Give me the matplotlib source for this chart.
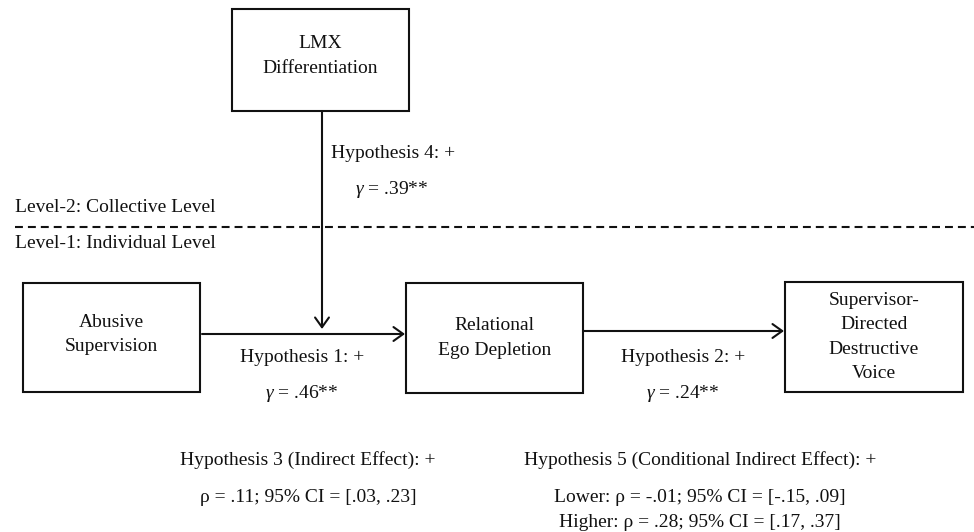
import matplotlib.pyplot as plt
from matplotlib.patches import Rectangle

plt.rcParams['font.family'] = ['Liberation Serif', 'DejaVu Serif']
plt.rcParams['mathtext.fontset'] = 'custom'
plt.rcParams['mathtext.rm'] = 'Liberation Serif'
plt.rcParams['mathtext.it'] = 'Liberation Serif:italic'

# variable boxes
box_labels = ['LMX\nDifferentiation', 'Abusive\nSupervision',
              'Relational\nEgo Depletion', 'Supervisor-\nDirected\nDestructive\nVoice']
# path labels
hyp_labels = ['Hypothesis 4: +', 'Hypothesis 1: +', 'Hypothesis 2: +']
gamma_values = ['.39**', '.46**', '.24**']
level_labels = ['Level-2: Collective Level', 'Level-1: Individual Level']
indirect_titles = ['Hypothesis 3 (Indirect Effect): +',
                   'Hypothesis 5 (Conditional Indirect Effect): +']
indirect_values = ['\u03c1 = .11; 95% CI = [.03, .23]',
                   'Lower: \u03c1 = -.01; 95% CI = [-.15, .09]\n'
                   'Higher: \u03c1 = .28; 95% CI = [.17, .37]']

fig = plt.figure(figsize=(9.74, 5.32), dpi=100)
ax = fig.add_axes([0, 0, 1, 1])
ax.set_xlim(0, 974)
ax.set_ylim(532, 0)
ax.axis('off')

fs = 14
ink = '#111111'
# boxes (x0, y0, x1, y1) and text offsets from centre
boxes = [(232, 9, 409, 111), (23, 283, 200, 392), (406, 283, 583, 393), (785, 282, 963, 392)]
offsets = [-4, -3, 0, 0]
for (x0, y0, x1, y1), lab, off in zip(boxes, box_labels, offsets):
    ax.add_patch(Rectangle((x0, y0), x1 - x0, y1 - y0, fill=False, lw=1.5, ec=ink))
    ax.text((x0 + x1) / 2, (y0 + y1) / 2 + off, lab, ha='center', va='center',
            fontsize=fs, linespacing=1.55, color=ink)

arrow = dict(arrowstyle='->,head_length=0.35,head_width=0.25', lw=1.5, color=ink,
             shrinkA=0, shrinkB=0, mutation_scale=20)
# vertical moderating arrow
ax.annotate('', xy=(322, 329), xytext=(322, 111), arrowprops=arrow)
# main paths
ax.annotate('', xy=(405, 334), xytext=(202, 334), arrowprops=arrow)
ax.annotate('', xy=(784, 331), xytext=(583, 331), arrowprops=arrow)

# level divider
ax.plot([15, 974], [227, 227], color=ink, lw=1.5, linestyle=(0, (3.8, 2.4)))
ax.text(15, 208, level_labels[0], ha='left', va='center', fontsize=fs, color=ink)
ax.text(15, 243, level_labels[1], ha='left', va='center', fontsize=fs, color=ink)

# path labels
ax.text(331, 153, hyp_labels[0], ha='left', va='center', fontsize=fs, color=ink)
ax.text(392, 189, r'$\mathit{\gamma}$ = ' + gamma_values[0], ha='center', va='center', fontsize=fs, color=ink)
ax.text(302, 357, hyp_labels[1], ha='center', va='center', fontsize=fs, color=ink)
ax.text(302, 393, r'$\mathit{\gamma}$ = ' + gamma_values[1], ha='center', va='center', fontsize=fs, color=ink)
ax.text(683, 357, hyp_labels[2], ha='center', va='center', fontsize=fs, color=ink)
ax.text(683, 393, r'$\mathit{\gamma}$ = ' + gamma_values[2], ha='center', va='center', fontsize=fs, color=ink)

# indirect effects
ax.text(308, 460, indirect_titles[0], ha='center', va='center', fontsize=fs, color=ink)
ax.text(308, 498, indirect_values[0], ha='center', va='center', fontsize=fs, color=ink)
ax.text(700, 460, indirect_titles[1], ha='center', va='center', fontsize=fs, color=ink)
ax.text(700, 510, indirect_values[1], ha='center', va='center', fontsize=fs, linespacing=1.55, color=ink)

fig.savefig('out.png', dpi=100)
